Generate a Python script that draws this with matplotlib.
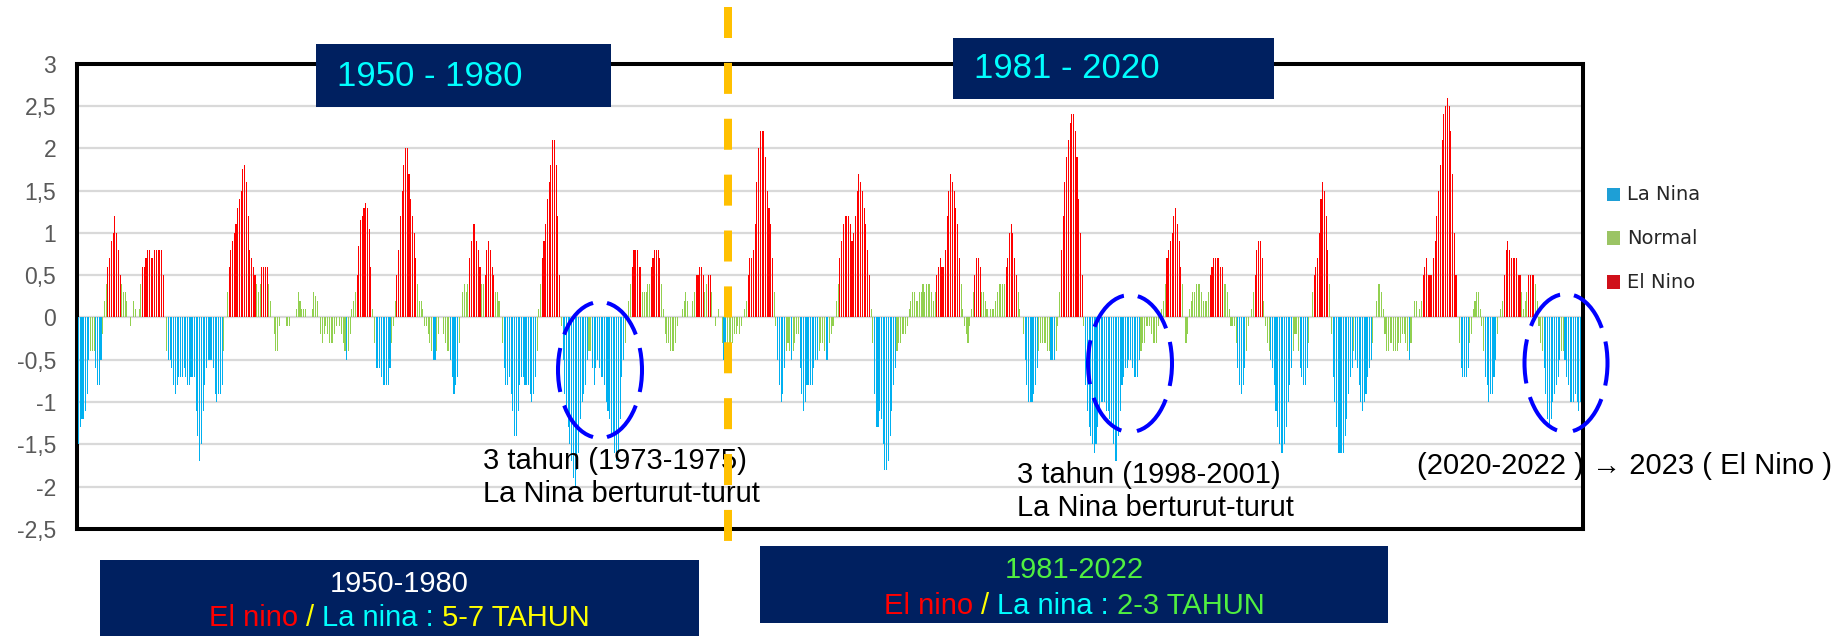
import numpy as np
import matplotlib.pyplot as plt
from matplotlib.patches import Rectangle, Ellipse
from matplotlib.lines import Line2D
from matplotlib.offsetbox import TextArea, HPacker, AnnotationBbox
from matplotlib.transforms import blended_transform_factory

plt.rcParams['font.family'] = ['Liberation Sans', 'DejaVu Sans']

W, H = 1849, 636

# ONI bulanan (musim 3 bulanan DJF..NDJ)
oni_1950s = [
    -1.5, -1.3, -1.2, -1.2, -1.1, -0.9, -0.5, -0.4, -0.4, -0.4, -0.6, -0.8,
    -0.8, -0.5, -0.2, 0.2, 0.4, 0.6, 0.7, 0.9, 1.0, 1.2, 1.0, 0.8,
    0.5, 0.4, 0.3, 0.3, 0.2, 0.0, -0.1, 0.0, 0.2, 0.1, 0.0, 0.1,
    0.4, 0.6, 0.6, 0.7, 0.8, 0.8, 0.7, 0.7, 0.8, 0.8, 0.8, 0.8,
    0.8, 0.5, 0.0, -0.4, -0.5, -0.5, -0.6, -0.8, -0.9, -0.8, -0.7, -0.7,
    -0.7, -0.6, -0.7, -0.8, -0.8, -0.7, -0.7, -0.7, -1.1, -1.4, -1.7, -1.5,
    -1.1, -0.8, -0.6, -0.5, -0.5, -0.5, -0.6, -0.9, -1.0, -0.9, -0.9, -0.8,
    -0.4, 0.0, 0.3, 0.6, 0.8, 0.9, 1.0, 1.1, 1.3, 1.4, 1.5, 1.75,
    1.8, 1.6, 1.2, 0.8, 0.7, 0.6, 0.5, 0.4, 0.3, 0.4, 0.6, 0.6,
    0.6, 0.6, 0.4, 0.2, 0.0, -0.2, -0.4, -0.4, -0.1, 0.0, 0.0, 0.0,
]
oni_1960s = [
    -0.1, -0.1, -0.1, 0.0, 0.0, 0.0, 0.1, 0.3, 0.2, 0.1, 0.1, 0.1,
    0.0, 0.0, 0.0, 0.1, 0.3, 0.25, 0.2, 0.0, -0.2, -0.3, -0.2, -0.1,
    -0.2, -0.3, -0.3, -0.3, -0.2, -0.1, 0.0, -0.1, -0.2, -0.3, -0.4, -0.5,
    -0.4, -0.2, 0.1, 0.2, 0.3, 0.5, 0.85, 1.15, 1.2, 1.3, 1.35, 1.3,
    1.05, 0.6, 0.1, -0.3, -0.6, -0.6, -0.6, -0.7, -0.8, -0.8, -0.8, -0.8,
    -0.6, -0.3, -0.1, 0.2, 0.5, 0.8, 1.2, 1.5, 1.8, 2.0, 2.0, 1.7,
    1.4, 1.2, 1.0, 0.7, 0.4, 0.2, 0.2, 0.1, -0.1, -0.1, -0.2, -0.3,
    -0.4, -0.5, -0.5, -0.4, -0.2, 0.0, 0.0, -0.2, -0.3, -0.4, -0.4, -0.5,
    -0.7, -0.9, -0.8, -0.7, -0.3, 0.0, 0.3, 0.4, 0.3, 0.4, 0.7, 0.9,
    1.1, 1.1, 0.9, 0.8, 0.6, 0.4, 0.4, 0.5, 0.8, 0.9, 0.8, 0.6,
]
oni_1970s = [
    0.5, 0.3, 0.3, 0.2, 0.0, -0.3, -0.6, -0.8, -0.8, -0.7, -0.9, -1.1,
    -1.4, -1.4, -1.1, -0.8, -0.7, -0.7, -0.8, -0.8, -0.8, -0.9, -1.0, -0.9,
    -0.7, -0.4, 0.1, 0.4, 0.7, 0.9, 1.1, 1.4, 1.6, 1.8, 2.1, 2.1,
    1.8, 1.2, 0.5, -0.1, -0.5, -0.9, -1.1, -1.3, -1.5, -1.7, -1.9, -2.0,
    -1.8, -1.6, -1.2, -1.0, -0.9, -0.8, -0.5, -0.4, -0.4, -0.6, -0.8, -0.6,
    -0.5, -0.6, -0.7, -0.7, -0.8, -1.0, -1.1, -1.2, -1.4, -1.4, -1.6, -1.7,
    -1.6, -1.2, -0.7, -0.5, -0.3, 0.0, 0.2, 0.4, 0.6, 0.8, 0.8, 0.8,
    0.6, 0.6, 0.3, 0.3, 0.3, 0.4, 0.4, 0.6, 0.7, 0.8, 0.8, 0.8,
    0.7, 0.4, 0.1, -0.2, -0.3, -0.3, -0.4, -0.4, -0.4, -0.3, -0.1, 0.0,
    0.0, 0.1, 0.2, 0.3, 0.2, 0.0, 0.0, 0.2, 0.3, 0.5, 0.5, 0.6,
]
oni_1980s = [
    0.6, 0.5, 0.3, 0.4, 0.5, 0.5, 0.3, 0.0, -0.1, 0.0, 0.1, 0.0,
    -0.3, -0.5, -0.5, -0.4, -0.3, -0.3, -0.3, -0.2, -0.2, -0.1, -0.2, -0.1,
    0.0, 0.1, 0.2, 0.5, 0.7, 0.7, 0.8, 1.1, 1.6, 2.0, 2.2, 2.2,
    2.2, 1.9, 1.5, 1.3, 1.1, 0.7, 0.3, -0.1, -0.5, -0.8, -1.0, -0.9,
    -0.6, -0.4, -0.3, -0.4, -0.5, -0.4, -0.3, -0.2, -0.2, -0.6, -0.9, -1.1,
    -1.0, -0.8, -0.8, -0.8, -0.8, -0.6, -0.5, -0.5, -0.4, -0.3, -0.3, -0.4,
    -0.5, -0.5, -0.3, -0.2, -0.1, 0.0, 0.2, 0.4, 0.7, 0.9, 1.1, 1.2,
    1.2, 1.2, 1.1, 0.9, 1.0, 1.2, 1.5, 1.7, 1.6, 1.5, 1.3, 1.1,
    0.8, 0.5, 0.1, -0.3, -0.9, -1.3, -1.3, -1.1, -1.2, -1.5, -1.8, -1.8,
    -1.7, -1.4, -1.1, -0.8, -0.6, -0.4, -0.3, -0.3, -0.2, -0.2, -0.2, -0.1,
]
oni_1990s = [
    0.1, 0.2, 0.3, 0.3, 0.2, 0.2, 0.3, 0.3, 0.4, 0.3, 0.4, 0.4,
    0.4, 0.3, 0.2, 0.3, 0.5, 0.6, 0.7, 0.6, 0.6, 0.8, 1.2, 1.5,
    1.7, 1.6, 1.5, 1.3, 1.1, 0.7, 0.4, 0.1, -0.1, -0.2, -0.3, -0.1,
    0.1, 0.3, 0.5, 0.7, 0.7, 0.6, 0.3, 0.3, 0.2, 0.1, 0.0, 0.1,
    0.1, 0.1, 0.2, 0.3, 0.4, 0.4, 0.4, 0.4, 0.6, 0.7, 1.0, 1.1,
    1.0, 0.7, 0.5, 0.3, 0.1, 0.0, -0.2, -0.5, -0.8, -1.0, -1.0, -1.0,
    -0.9, -0.8, -0.6, -0.4, -0.3, -0.3, -0.3, -0.3, -0.4, -0.4, -0.5, -0.5,
    -0.5, -0.4, -0.1, 0.3, 0.8, 1.2, 1.6, 1.9, 2.1, 2.3, 2.4, 2.4,
    2.2, 1.9, 1.4, 1.0, 0.5, -0.1, -0.8, -1.1, -1.3, -1.4, -1.5, -1.6,
    -1.5, -1.3, -1.1, -1.0, -1.0, -1.0, -1.1, -1.1, -1.2, -1.3, -1.5, -1.7,
]
oni_2000s = [
    -1.7, -1.4, -1.1, -0.8, -0.7, -0.6, -0.6, -0.5, -0.5, -0.6, -0.7, -0.7,
    -0.7, -0.5, -0.4, -0.3, -0.3, -0.1, -0.1, -0.1, -0.2, -0.3, -0.3, -0.3,
    -0.1, 0.0, 0.1, 0.2, 0.4, 0.7, 0.8, 0.9, 1.0, 1.2, 1.3, 1.1,
    0.9, 0.6, 0.4, 0.0, -0.3, -0.2, 0.1, 0.2, 0.3, 0.3, 0.4, 0.4,
    0.4, 0.3, 0.2, 0.2, 0.2, 0.3, 0.5, 0.6, 0.7, 0.7, 0.7, 0.7,
    0.6, 0.6, 0.4, 0.4, 0.3, 0.1, -0.1, -0.1, -0.1, -0.3, -0.6, -0.8,
    -0.9, -0.8, -0.6, -0.4, -0.1, 0.0, 0.1, 0.3, 0.5, 0.8, 0.9, 0.9,
    0.7, 0.2, -0.1, -0.3, -0.4, -0.5, -0.6, -0.8, -1.1, -1.3, -1.5, -1.6,
    -1.6, -1.5, -1.3, -1.0, -0.8, -0.6, -0.4, -0.2, -0.2, -0.4, -0.6, -0.7,
    -0.8, -0.8, -0.6, -0.3, 0.0, 0.3, 0.5, 0.6, 0.7, 1.0, 1.4, 1.6,
]
oni_2010s = [
    1.5, 1.2, 0.8, 0.4, -0.2, -0.7, -1.0, -1.3, -1.6, -1.6, -1.6, -1.6,
    -1.4, -1.2, -0.9, -0.7, -0.6, -0.4, -0.5, -0.6, -0.8, -1.0, -1.1, -1.0,
    -0.9, -0.7, -0.6, -0.5, -0.3, 0.0, 0.2, 0.4, 0.4, 0.3, 0.1, -0.2,
    -0.4, -0.4, -0.3, -0.3, -0.4, -0.4, -0.4, -0.3, -0.3, -0.2, -0.2, -0.3,
    -0.4, -0.5, -0.3, 0.0, 0.2, 0.2, 0.0, 0.1, 0.2, 0.5, 0.6, 0.7,
    0.5, 0.5, 0.5, 0.7, 0.9, 1.2, 1.5, 1.8, 2.1, 2.4, 2.5, 2.6,
    2.5, 2.2, 1.7, 1.0, 0.5, 0.0, -0.3, -0.6, -0.7, -0.7, -0.7, -0.6,
    -0.3, -0.2, 0.1, 0.2, 0.3, 0.3, 0.1, -0.1, -0.4, -0.7, -0.8, -1.0,
    -0.9, -0.9, -0.7, -0.5, -0.2, 0.0, 0.1, 0.2, 0.5, 0.8, 0.9, 0.8,
    0.7, 0.7, 0.7, 0.7, 0.5, 0.5, 0.3, 0.1, 0.2, 0.3, 0.5, 0.5,
]
oni_2020s = [
    0.5, 0.5, 0.4, 0.2, -0.1, -0.3, -0.4, -0.6, -0.9, -1.2, -1.3, -1.2,
    -1.0, -0.9, -0.8, -0.7, -0.5, -0.4, -0.4, -0.5, -0.7, -0.8, -1.0, -1.0,
    -1.0, -0.9, -1.0, -1.1, -1.0,
]

categories = ['La Nina', 'Normal', 'El Nino']
bar_colors = {'La Nina': '#00B0F0', 'Normal': '#92D050', 'El Nino': '#FF0000'}
key_colors = {'La Nina': '#1E9FD6', 'Normal': '#9BC464', 'El Nino': '#D0101A'}
threshold = 0.5
yticks = np.arange(-2.5, 3.01, 0.5)
split_month = 375.3  # batas 1980/1981

oni = np.array(oni_1950s + oni_1960s + oni_1970s + oni_1980s
               + oni_1990s + oni_2000s + oni_2010s + oni_2020s)
months = np.arange(len(oni))
cat = np.where(oni >= threshold, 'El Nino',
               np.where(oni <= -threshold, 'La Nina', 'Normal'))


def fx(px):
    return px / W


def fy(py):
    return 1 - py / H


fig = plt.figure(figsize=(W / 100, H / 100), dpi=100)
ax = fig.add_axes([fx(77), fy(529), (1583.5 - 77) / W, (529 - 63.7) / H])

ax.bar(months, oni, width=0.62, color=[bar_colors[c] for c in cat],
       linewidth=0, zorder=3)
ax.set_xlim(-0.87, 869.7)
ax.set_ylim(-2.5, 3)
ax.set_xticks([])
ax.set_yticks(yticks)
ax.set_yticklabels([f'{t:g}'.replace('.', ',') for t in yticks])
ax.tick_params(axis='y', length=0, pad=15, labelsize=16.5, labelcolor='#595959')
ax.yaxis.grid(True, color='#D9D9D9', linewidth=1.6)
ax.set_axisbelow(True)
for s in ax.spines.values():
    s.set_linewidth(2.9)
    s.set_color('black')

navy = '#002060'

# kotak judul periode
fig.add_artist(Rectangle((fx(316), fy(107)), (611 - 316) / W, (107 - 44) / H,
                         transform=fig.transFigure, facecolor=navy, edgecolor='none', zorder=3))
fig.text(fx(337), fy(76), '1950 - 1980', color='#00FFFF', fontsize=25,
         ha='left', va='center', zorder=4)
fig.add_artist(Rectangle((fx(953), fy(99)), (1274 - 953) / W, (99 - 38) / H,
                         transform=fig.transFigure, facecolor=navy, edgecolor='none', zorder=3))
fig.text(fx(974), fy(68.5), '1981 - 2020', color='#00FFFF', fontsize=25,
         ha='left', va='center', zorder=4)

# kotak keterangan bawah
fig.add_artist(Rectangle((fx(100), fy(640)), (699 - 100) / W, (640 - 560) / H,
                         transform=fig.transFigure, facecolor=navy, edgecolor='none', zorder=3))
fig.add_artist(Rectangle((fx(760), fy(623)), (1388 - 760) / W, (623 - 546) / H,
                         transform=fig.transFigure, facecolor=navy, edgecolor='none', zorder=3))


def colored_line(parts, x, y, size=21):
    boxes = [TextArea(s, textprops=dict(color=c, fontsize=size)) for s, c in parts]
    pack = HPacker(children=boxes, align='baseline', pad=0, sep=size * 0.278)
    ab = AnnotationBbox(pack, (fx(x), fy(y)), xycoords='figure fraction',
                        frameon=False, box_alignment=(0.5, 0.5), zorder=4)
    fig.add_artist(ab)


colored_line([('1950-1980', 'white')], 399.5, 584)
colored_line([('El nino', '#FF0000'), ('/', '#FFFF00'), ('La nina :', '#00FFFF'),
              ('5-7 TAHUN', '#FFFF00')], 399.5, 618)
colored_line([('1981-2022', '#50F040')], 1074, 570)
colored_line([('El nino', '#FF0000'), ('/', '#FFFF00'), ('La nina :', '#00FFFF'),
              ('2-3 TAHUN', '#50F040')], 1074, 605.5)

# catatan La Nina berturut-turut
fig.text(fx(483), fy(461), '3 tahun (1973-1975)', fontsize=21, ha='left', va='center', zorder=3)
fig.text(fx(483), fy(494), 'La Nina berturut-turut', fontsize=21, ha='left', va='center', zorder=3)
fig.text(fx(1017), fy(475), '3 tahun (1998-2001)', fontsize=21, ha='left', va='center', zorder=3)
fig.text(fx(1017), fy(508), 'La Nina berturut-turut', fontsize=21, ha='left', va='center', zorder=3)
fig.text(fx(1417), fy(466), '(2020-2022 ) \u2192 2023 ( El Nino )', fontsize=21,
         ha='left', va='center', zorder=3)

# elips penanda
for cx, cy, ew, eh in [(600, 370, 84, 136), (1130, 363.5, 84, 137), (1566, 363, 83, 138)]:
    fig.add_artist(Ellipse((fx(cx), fy(cy)), ew / W, eh / H, transform=fig.transFigure,
                           fill=False, edgecolor='#0000FF', linewidth=2.9,
                           linestyle=(12.75, (11, 3.5)), zorder=5))

# garis pemisah periode
trans = blended_transform_factory(ax.transData, fig.transFigure)
fig.add_artist(Line2D([split_month, split_month], [fy(6.7), fy(541.7)], transform=trans,
                      color='#FFC000', linewidth=5.76, linestyle=(0, (3.875, 3.11)),
                      dash_capstyle='butt', zorder=10))

# legenda
for i, name in enumerate(categories):
    yc = [194.5, 238, 282][i]
    fig.add_artist(Rectangle((fx(1607), fy(yc + 6.5)), 13 / W, 13 / H, transform=fig.transFigure,
                             facecolor=key_colors[name], edgecolor='none', zorder=3))
    fig.text(fx(1627), fy(yc), name, fontsize=14, family='DejaVu Sans', color='#262626',
             ha='left', va='center', zorder=3)

fig.savefig('out.png', dpi=100)
